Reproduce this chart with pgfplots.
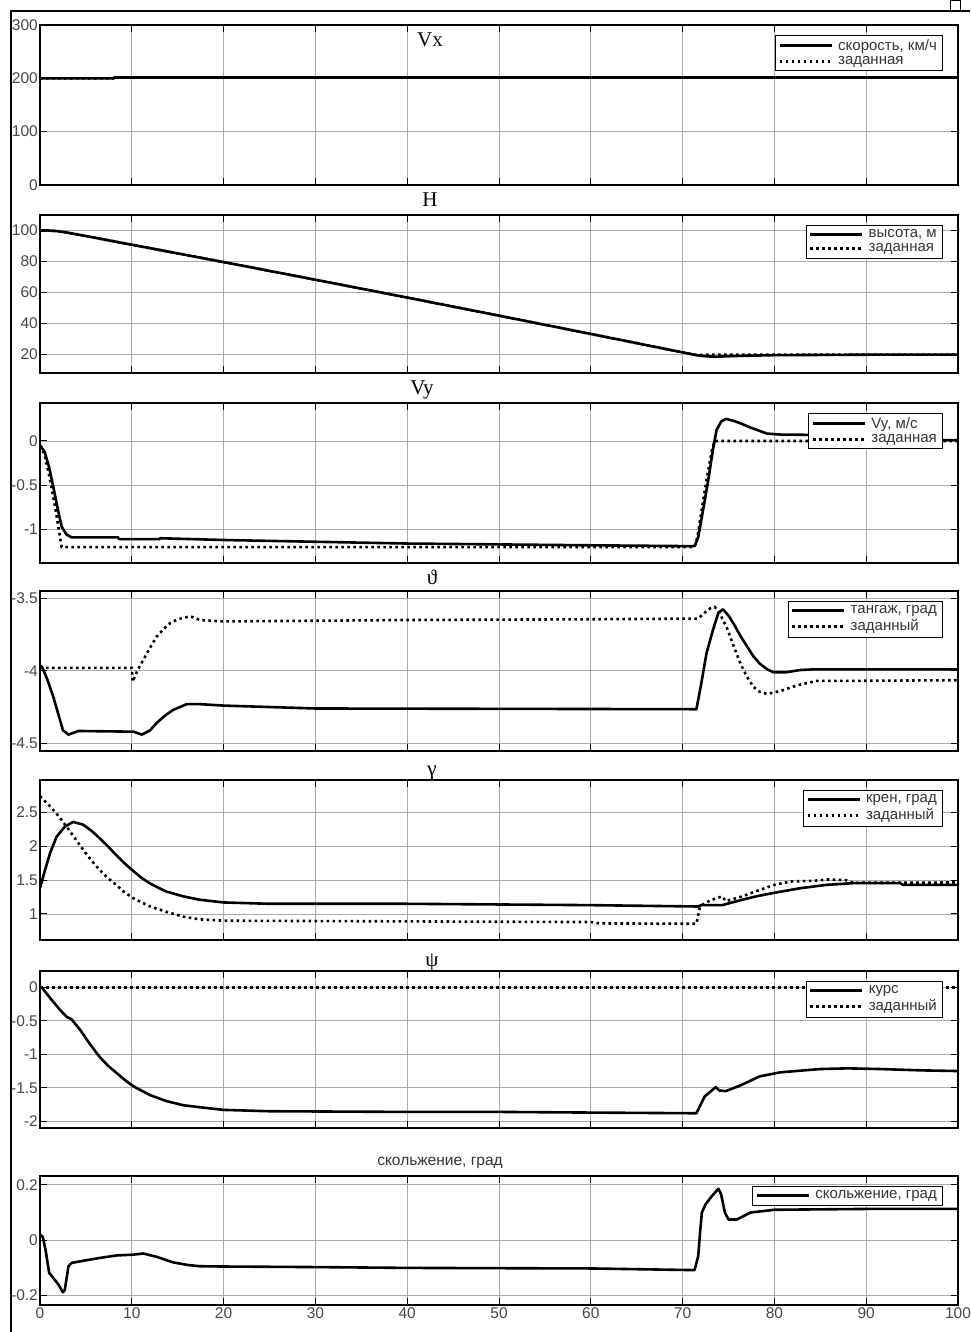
\documentclass[border=0pt]{standalone}
\usepackage{fontspec}
\setmainfont{Liberation Serif}
\setsansfont{Liberation Sans}
\usepackage{pgfplots}
\pgfplotsset{compat=1.18}
\definecolor{gridgray}{RGB}{170,170,170}
\definecolor{ticktext}{RGB}{70,70,70}
\pgfplotsset{
  panel/.style={
    scale only axis, width=918pt,
    xmin=0, xmax=100, xtick={0,10,...,100}, xticklabels={},
    axis line style={line width=1.2pt},
    tick style={black, line width=1pt},
    major tick length=7pt, tick align=inside,
    grid=major, major grid style={gridgray, line width=0.8pt},
    /pgf/number format/assume math mode=true,
    /pgf/number format/fixed,
    yticklabel style={font=\sffamily\fontsize{15.5}{16}\selectfont, text=ticktext, inner sep=2pt},
    xticklabel style={font=\sffamily\fontsize{15.5}{16}\selectfont, text=ticktext, inner sep=2pt},
    legend style={at={(1,1)}, anchor=north east, xshift=-16pt, yshift=-10pt,
      font=\sffamily\fontsize{15}{16}\selectfont, text=black!80,
      draw=black, fill=white, inner xsep=3pt, inner ysep=2.5pt,
      row sep=0.5pt},
    legend cell align=left,
    legend image code/.code={\draw[##1, line width=3pt] (2pt,0pt) -- (54pt,0pt); \path (57pt,0pt);},
    clip=true,
  },
  sol/.style={black, line width=2.6pt, line join=round},
  dot/.style={black, line width=2.6pt, dash pattern=on 2.6pt off 3.4pt},
}
\begin{document}
\begin{tikzpicture}
\path[use as bounding box] (0pt,0pt) rectangle (970pt,1332pt);
\draw[line width=1.3pt] (11pt,0pt) -- (11pt,1321pt) -- (970pt,1321pt);
\draw[line width=0.8pt, fill=white] (950pt,1322pt) rectangle (960pt,1332pt);

% Panel 1: Vx
\begin{axis}[panel, at={(40pt,1147pt)}, anchor=south west, height=160pt,
  ymin=0, ymax=300, ytick={0,100,200,300}]
\addlegendimage{sol}
\addlegendentry{скорость, км/ч}
\addlegendimage{dot}
\addlegendentry{заданная}
\addplot[dot, forget plot] coordinates {(0,200) (8,200) (8.1,201.5) (100,201.5)};
\addplot[sol, forget plot] coordinates {(0,200) (8,200) (8.1,201.5) (100,201.5)};
\end{axis}

% Panel 2: H
\begin{axis}[panel, at={(40pt,959pt)}, anchor=south west, height=158pt,
  ymin=8, ymax=110, ytick={20,40,60,80,100}]
\addlegendimage{sol}
\addlegendentry{высота, м}
\addlegendimage{dot}
\addlegendentry{заданная}
\addplot[dot, forget plot] coordinates {(0,100) (1,99.95) (2,99.5) (3,98.6) (5,96.4) (10,90.8) (15,85.2) (20,79.6) (30,68.2) (40,56.7) (50,45.0) (60,33.2) (70,21.3) (71.5,19.6) (73,19.8) (100,19.9)};
\addplot[sol, forget plot] coordinates {(0,100) (1,99.95) (2,99.5) (3,98.6) (5,96.4) (10,90.8) (15,85.2) (20,79.6) (30,68.2) (40,56.7) (50,45.0) (60,33.2) (70,21.3) (71.5,19.5) (72.5,18.8) (73.5,18.5) (74.5,18.7) (76,19.0) (80,19.5) (90,19.8) (100,19.9)};
\end{axis}

% Panel 3: Vy
\begin{axis}[panel, at={(40pt,769pt)}, anchor=south west, height=160pt,
  ymin=-1.38, ymax=0.43, ytick={-1,-0.5,0}]
\addplot[sol] coordinates {(0,-0.05) (0.5,-0.12) (1,-0.3) (1.45,-0.52) (2,-0.8) (2.36,-0.97) (2.9,-1.06) (3.45,-1.09) (8.5,-1.09) (8.6,-1.11) (13,-1.11) (13.1,-1.1) (20,-1.12) (30,-1.14) (40,-1.16) (50,-1.17) (60,-1.18) (71.3,-1.19) (71.7,-1.09) (72.2,-0.8) (72.8,-0.44) (73.3,-0.1) (73.7,0.125) (74.2,0.22) (74.7,0.25) (75.5,0.23) (76.3,0.2) (77.2,0.16) (78.1,0.125) (79.2,0.084) (80.6,0.073) (83.3,0.07) (86,0.06) (89,0.04) (92,0.025) (96,0.01) (100,0.01)};
\addlegendentry{Vy, м/с}
\addplot[dot] coordinates {(0,-0.05) (0.5,-0.15) (1.1,-0.44) (1.6,-0.72) (2.0,-0.97) (2.36,-1.2) (71.3,-1.2) (71.6,-1.09) (72.6,-0.44) (73.2,-0.1) (73.5,0) (100,0)};
\addlegendentry{заданная}
\end{axis}

% Panel 4: theta
\begin{axis}[panel, at={(40pt,581pt)}, anchor=south west, height=160pt,
  ymin=-4.553, ymax=-3.45, ytick={-4.5,-4,-3.5}]
\addplot[sol] coordinates {(0,-3.97) (0.2,-3.97) (0.8,-4.06) (1.45,-4.18) (2,-4.3) (2.5,-4.41) (3.1,-4.44) (4.2,-4.415) (10.2,-4.42) (11.1,-4.44) (12,-4.41) (12.7,-4.36) (13.6,-4.31) (14.5,-4.27) (16,-4.23) (17.4,-4.23) (20,-4.24) (30,-4.26) (71.5,-4.265) (72,-4.1) (72.6,-3.88) (73.3,-3.72) (73.9,-3.60) (74.4,-3.576) (75,-3.62) (75.6,-3.68) (76.3,-3.76) (77,-3.83) (77.7,-3.90) (78.4,-3.95) (79.2,-3.99) (79.9,-4.01) (81.3,-4.01) (82.8,-3.995) (84.3,-3.99) (100,-3.99)};
\addlegendentry{тангаж, град}
\addplot[dot] coordinates {(0,-3.98) (10,-3.98) (10.1,-4.075) (10.6,-4.0) (11.25,-3.925) (12,-3.84) (12.7,-3.765) (13.5,-3.71) (14.2,-3.67) (15,-3.645) (16,-3.63) (16.4,-3.625) (17.4,-3.65) (20,-3.66) (40,-3.65) (60,-3.645) (71.7,-3.64) (72.4,-3.6) (73,-3.57) (73.5,-3.56) (74,-3.6) (74.8,-3.70) (75.5,-3.82) (76.3,-3.95) (77,-4.04) (77.7,-4.11) (78.4,-4.145) (79.2,-4.16) (80.6,-4.14) (82.5,-4.10) (84.6,-4.07) (87.2,-4.07) (100,-4.065)};
\addlegendentry{заданный}
\end{axis}

% Panel 5: gamma
\begin{axis}[panel, at={(40pt,392pt)}, anchor=south west, height=160pt,
  ymin=0.615, ymax=2.98, ytick={1,1.5,2,2.5}]
\addplot[sol] coordinates {(0,1.38) (0.55,1.65) (1.1,1.9) (1.8,2.14) (2.7,2.29) (3.6,2.36) (4.7,2.32) (5.6,2.23) (6.5,2.12) (7.4,2.0) (8.3,1.87) (9.2,1.75) (10.2,1.63) (11.1,1.53) (12,1.45) (13,1.38) (13.8,1.33) (15.6,1.26) (17.4,1.21) (20,1.17) (25,1.15) (40,1.15) (60,1.13) (71.7,1.11) (72,1.13) (74.3,1.13) (76.5,1.21) (78,1.26) (79.9,1.31) (82.8,1.38) (85.7,1.43) (88.6,1.455) (93.7,1.455) (94,1.43) (100,1.43)};
\addlegendentry{крен, град}
\addplot[dot] coordinates {(0,2.74) (1.1,2.59) (2,2.45) (2.9,2.29) (3.8,2.12) (4.7,1.95) (5.6,1.79) (6.5,1.65) (7.4,1.53) (8.3,1.43) (9.2,1.32) (10.2,1.23) (12,1.11) (13.8,1.03) (15.6,0.96) (17.4,0.92) (20,0.9) (40,0.89) (60,0.88) (61,0.86) (71.5,0.855) (71.9,1.11) (72.1,1.13) (73,1.2) (74.3,1.26) (74.7,1.19) (75.5,1.22) (76.5,1.26) (78.3,1.35) (80,1.43) (81.8,1.48) (84.3,1.49) (85.7,1.51) (87.8,1.5) (88.6,1.46) (100,1.465)};
\addlegendentry{заданный}
\end{axis}

% Panel 6: psi
\begin{axis}[panel, at={(40pt,204pt)}, anchor=south west, height=157pt,
  ymin=-2.10, ymax=0.243, ytick={-2,-1.5,-1,-0.5,0}]
\addplot[sol] coordinates {(0,0.01) (0.3,-0.02) (1.1,-0.16) (2.2,-0.34) (2.9,-0.44) (3.45,-0.48) (4.4,-0.64) (5.4,-0.84) (6.5,-1.04) (7.4,-1.17) (8.35,-1.28) (9.3,-1.39) (10.2,-1.48) (12,-1.61) (13.8,-1.70) (15.6,-1.76) (17.4,-1.79) (20,-1.83) (25,-1.85) (40,-1.86) (50,-1.86) (60,-1.87) (71.5,-1.88) (72.4,-1.63) (73,-1.56) (73.6,-1.49) (74,-1.54) (74.7,-1.55) (76.2,-1.47) (78.4,-1.33) (80.6,-1.27) (85,-1.22) (88,-1.21) (91.5,-1.22) (96,-1.24) (100,-1.25)};
\addlegendentry{курс}
\addplot[dot] coordinates {(0,0) (100,0)};
\addlegendentry{заданный}
\end{axis}

% Panel 7: slip
\begin{axis}[panel, at={(40pt,27pt)}, anchor=south west, height=129pt,
  ymin=-0.234, ymax=0.232, ytick={-0.2,0,0.2},
  xticklabels={0,10,20,30,40,50,60,70,80,90,100}]
\addplot[sol] coordinates {(0,0.02) (0.3,0.012) (0.6,-0.034) (1.0,-0.118) (1.45,-0.136) (2,-0.16) (2.5,-0.188) (2.7,-0.18) (3.1,-0.094) (3.45,-0.082) (5.1,-0.072) (6.5,-0.064) (8.35,-0.055) (10.2,-0.052) (11.25,-0.048) (12.7,-0.06) (14.5,-0.08) (16,-0.089) (17.4,-0.094) (20,-0.095) (30,-0.097) (40,-0.1) (60,-0.102) (71.3,-0.108) (71.7,-0.058) (71.9,0.027) (72.1,0.1) (72.5,0.13) (73.2,0.16) (73.9,0.186) (74.2,0.165) (74.6,0.1) (75,0.075) (75.9,0.075) (77.4,0.1) (80,0.11) (90,0.113) (100,0.113)};
\addlegendentry{скольжение, град}
\end{axis}

% Titles
\node[font=\fontsize{21}{21}\selectfont] at (430pt,1292pt) {Vx};
\node[font=\fontsize{21}{21}\selectfont] at (430pt,1132pt) {H};
\node[font=\fontsize{21}{21}\selectfont] at (422pt,942pt) {Vy};
\node[font=\fontsize{21}{21}\selectfont] at (432pt,755pt) {ϑ};
\node[font=\fontsize{21}{21}\selectfont] at (432pt,559pt) {γ};
\node[font=\fontsize{21}{21}\selectfont] at (432pt,370pt) {ψ};
\node[font=\sffamily\fontsize{15.5}{16}\selectfont, text=black!80] at (440pt,169pt) {скольжение, град};
\end{tikzpicture}
\end{document}
